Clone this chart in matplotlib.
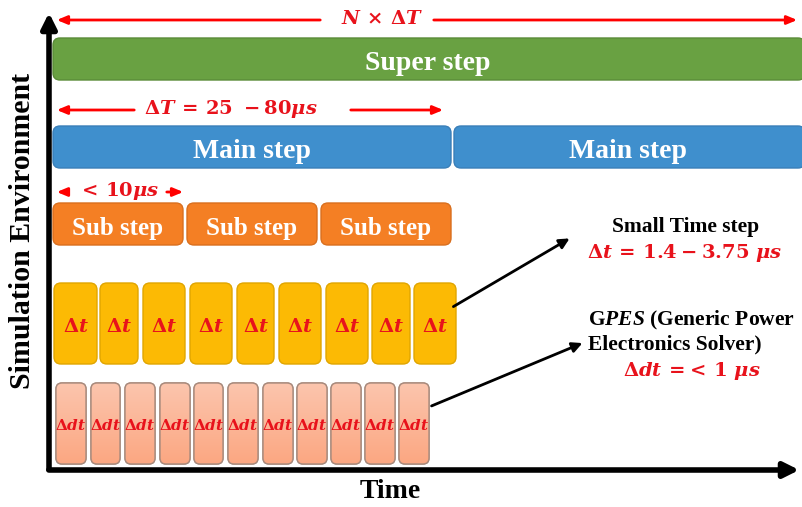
import numpy as np
import matplotlib.pyplot as plt
from matplotlib.patches import FancyBboxPatch
from matplotlib.colors import LinearSegmentedColormap

plt.rcParams['font.family'] = ['Liberation Serif', 'DejaVu Serif']
plt.rcParams['mathtext.fontset'] = 'custom'
plt.rcParams['mathtext.rm'] = 'DejaVu Serif:bold'
plt.rcParams['mathtext.it'] = 'DejaVu Serif:italic:bold'
plt.rcParams['mathtext.bf'] = 'DejaVu Serif:bold'
plt.rcParams['mathtext.sf'] = 'Liberation Serif:italic:bold'

# Layer spans (left edge, right edge) along the time axis
super_spans = [(53, 805)]
main_spans = [(53, 451), (454, 805)]
sub_spans = [(53, 183), (187, 317), (321, 451)]
dt_spans = [(54, 97), (100, 138), (143, 185), (190, 232), (237, 274),
            (279, 321), (326, 368), (372, 410), (414, 456)]
ddt_spans = [(56, 86), (91, 120), (125, 155), (160, 190), (194, 223), (228, 258),
             (263, 293), (297, 327), (331, 361), (365, 395), (399, 429)]

super_label = 'Super step'
main_label = 'Main step'
sub_label = 'Sub step'
dt_label = r'$\Delta t$'
ddt_label = r'$\Delta dt$'

RED = '#e8121b'

fig = plt.figure(figsize=(8.02, 5.07), dpi=100)
ax = fig.add_axes([0, 0, 1, 1])
ax.set_xlim(0, 802)
ax.set_ylim(507, 0)
ax.axis('off')

salmon = LinearSegmentedColormap.from_list('salmon', ['#fcc5ad', '#fba782'])


def draw_row(spans, top, bottom, face, edge, label, color, size, rounding=7, grad=None, dy=1):
    for x0, x1 in spans:
        box = FancyBboxPatch((x0, top), x1 - x0, bottom - top,
                             boxstyle=f'round,pad=0,rounding_size={rounding}',
                             fc=face, ec=edge, lw=1.0, zorder=2)
        ax.add_patch(box)
        if grad is not None:
            img = ax.imshow(np.linspace(0, 1, 50).reshape(-1, 1), cmap=grad, aspect='auto',
                            extent=(x0, x1, bottom, top), zorder=2.1)
            img.set_clip_path(box)
            ax.add_patch(FancyBboxPatch((x0, top), x1 - x0, bottom - top,
                                        boxstyle=f'round,pad=0,rounding_size={rounding}',
                                        fc='none', ec=edge, lw=1.0, zorder=2.2))
        ax.text((x0 + min(x1, 802)) / 2, (top + bottom) / 2 + dy, label, color=color,
                fontsize=size, fontweight='bold', ha='center', va='center', zorder=3)


draw_row(super_spans, 38, 80, '#69a142', '#5a8c38', super_label, 'white', 20, dy=5)
draw_row(main_spans, 126, 168, '#3f8fcd', '#3a7fb8', main_label, 'white', 20, dy=5)
draw_row(sub_spans, 203, 245, '#f47f24', '#d96f1e', sub_label, 'white', 18, dy=4)
draw_row(dt_spans, 283, 364, '#fcba04', '#e0a500', dt_label, RED, 14, dy=3)
draw_row(ddt_spans, 383, 464, '#fbb394', '#a88a7c', ddt_label, RED, 11, rounding=6,
         grad=salmon, dy=2)

# axes arrows
ax.annotate('', xy=(49, 10), xytext=(49, 472),
            arrowprops=dict(arrowstyle='-|>,head_length=0.9,head_width=0.45', lw=4, color='black'))
ax.annotate('', xy=(802, 470), xytext=(46, 470),
            arrowprops=dict(arrowstyle='-|>,head_length=0.9,head_width=0.45', lw=4, color='black'))
ax.text(390, 492, 'Time', fontsize=20, fontweight='bold', ha='center', va='center')
ax.text(23, 231, 'Simulation Environment', fontsize=21.5, fontweight='bold',
        rotation=90, ha='center', va='center')

# red dimension arrows
red_arrow = dict(arrowstyle='-|>,head_length=0.6,head_width=0.25', lw=2, color='#ff0000')
ax.annotate('', xy=(54, 20), xytext=(323, 20), arrowprops=red_arrow)
ax.annotate('', xy=(800, 20), xytext=(431, 20), arrowprops=red_arrow)
ax.text(382, 19, r'$N\,\times\,\Delta T$', color=RED, fontsize=14, ha='center', va='center')

ax.annotate('', xy=(54, 110), xytext=(137, 110), arrowprops=red_arrow)
ax.annotate('', xy=(446, 110), xytext=(348, 110), arrowprops=red_arrow)
ax.text(231, 109, r'$\Delta T\,=\,25\ -80\mu s$', color=RED, fontsize=14,
        ha='center', va='center')

ax.annotate('', xy=(54, 192), xytext=(68, 192), arrowprops=red_arrow)
ax.annotate('', xy=(186, 192), xytext=(164, 192), arrowprops=red_arrow)
ax.text(118, 191, r'$<\,10\mu s$', color=RED, fontsize=14, ha='center', va='center')

# callouts
black_arrow = dict(arrowstyle='-|>,head_length=0.6,head_width=0.3', lw=2, color='black')
ax.annotate('', xy=(572, 237), xytext=(451, 308), arrowprops=black_arrow)
ax.annotate('', xy=(585, 342), xytext=(429, 407), arrowprops=black_arrow)

ax.text(686, 227, 'Small Time step', fontsize=15.5, fontweight='bold', ha='center', va='center')
ax.text(685, 253, r'$\Delta t\,=\,1.4-3.75\ \mu s$', color=RED, fontsize=14,
        ha='center', va='center')
ax.text(588, 320, r'G$\mathsf{PES}$ (Generic Power', fontsize=15.5, fontweight='bold',
        ha='left', va='center')
ax.text(588, 344, 'Electronics Solver)', fontsize=15.5, fontweight='bold', ha='left', va='center')
ax.text(692, 371, r'$\Delta dt\,=\!<\,1\ \mu s$', color=RED, fontsize=14,
        ha='center', va='center')

fig.savefig('out.png', dpi=100)
